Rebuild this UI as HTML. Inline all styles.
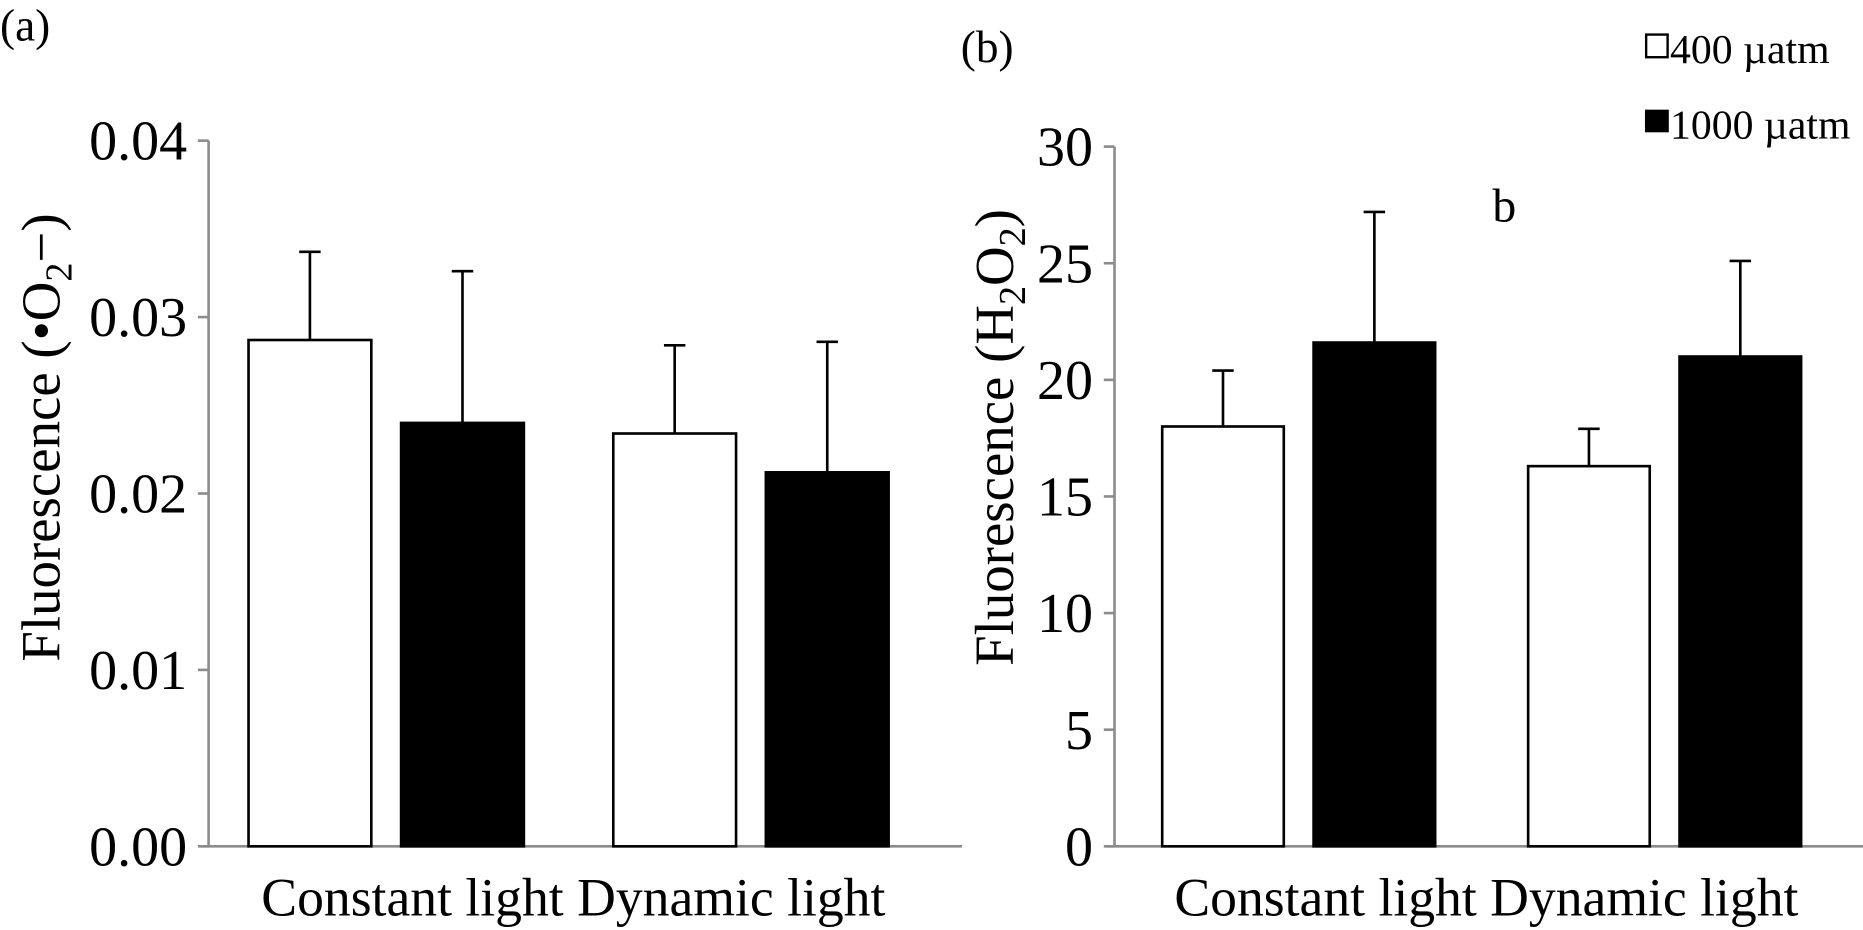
<!DOCTYPE html>
<html><head><meta charset="utf-8"><style>
html,body{margin:0;padding:0;background:#fff;}
svg{display:block;font-family:"Liberation Serif",serif;}
</style></head><body>
<svg id="chart" width="1863" height="930" viewBox="0 0 1863 930" xmlns="http://www.w3.org/2000/svg">
<g transform="scale(1.192)">
<g id="pa"></g>
<g id="pb"></g>
<g>
  <rect x="1381" y="29" width="18" height="19" fill="#fff" stroke="#000" stroke-width="2"/>
  <text x="1401" y="53" font-size="35">400 µatm</text>
  <rect x="1380" y="92" width="20" height="19" fill="#000"/>
  <text x="1401" y="116" font-size="35">1000 µatm</text>
</g>
<text x="0" y="34" font-size="38">(a)</text>
<text x="806" y="52" font-size="38">(b)</text>
<text x="1262" y="186" font-size="40" text-anchor="middle">b</text>
</g>
<script>
const categories = ["Constant light", "Dynamic light"];
const seriesNames = ["400 µatm", "1000 µatm"];
const aValues400 = [0.0287, 0.0234];
const aValues1000 = [0.0240, 0.0212];
const aErr400 = [0.0050, 0.0050];
const aErr1000 = [0.0086, 0.0074];
const aTicks = [0, 0.01, 0.02, 0.03, 0.04];
const aTickLabels = ["0.00", "0.01", "0.02", "0.03", "0.04"];
const bValues400 = [18.0, 16.3];
const bValues1000 = [21.6, 21.0];
const bErr400 = [2.4, 1.6];
const bErr1000 = [5.6, 4.1];
const bTicks = [0, 5, 10, 15, 20, 25, 30];
const bTickLabels = ["0", "5", "10", "15", "20", "25", "30"];

const NS = "http://www.w3.org/2000/svg";
function mk(parent, tag, attrs){const e=document.createElementNS(NS,tag);for(const k in attrs)e.setAttribute(k,attrs[k]);parent.appendChild(e);return e;}

function drawPanel(g, cfg){
  const y = v => cfg.y0 - (v - cfg.min)/(cfg.max-cfg.min)*(cfg.y0-cfg.y1);
  const catW = cfg.catW;
  const ax = mk(g,'line',{x1:cfg.x0,y1:cfg.y1,x2:cfg.x0,y2:cfg.y0,stroke:'#8c8c8c','stroke-width':2.2});
  
  
  const xa = mk(g,'line',{x1:cfg.x0-7,y1:cfg.y0,x2:cfg.x0+catW*categories.length+20,y2:cfg.y0,stroke:'#8c8c8c','stroke-width':2.2});
  
  
  cfg.ticks.forEach((t,i)=>{
    const tk = mk(g,'line',{x1:cfg.x0-9,y1:y(t),x2:cfg.x0,y2:y(t),stroke:'#8c8c8c','stroke-width':2.2});
    
    
    const tl = mk(g,'text',{x:cfg.x0-18,y:y(t)+16,'font-size':47,'text-anchor':'end'});
    tl.textContent = cfg.tickLabels[i];
    
    
  });
  categories.forEach((c,i)=>{
    const cx = cfg.x0 + catW*(i+0.5) + cfg.shift;
    const series = [[cfg.v400[i],cfg.e400[i],'#fff'],[cfg.v1000[i],cfg.e1000[i],'#000']];
    series.forEach((s,j)=>{
      const bx = cx + (j===0 ? -cfg.bw - cfg.gap/2 : cfg.gap/2);
      const ex = bx + cfg.bw/2;
      const el = mk(g,'line',{x1:ex,y1:y(s[0]),x2:ex,y2:y(s[0]+s[1]),stroke:'#000','stroke-width':2.2});
      
      
      const cap = mk(g,'line',{x1:ex-9,y1:y(s[0]+s[1]),x2:ex+9,y2:y(s[0]+s[1]),stroke:'#000','stroke-width':2.2});
      
      
      const r = mk(g,'rect',{x:bx,y:y(s[0]),width:cfg.bw,height:y(cfg.min)-y(s[0]),fill:s[2],stroke:'#000','stroke-width':2.2});
      
      
    });
  });
  const xl = mk(g,'text',{x:cfg.x0+catW+cfg.shift+4,y:768,'font-size':45,'text-anchor':'middle'});
  xl.textContent = categories.join(' ');
  
  
  const yl = mk(g,'text',{transform:`translate(${cfg.ylx},367) rotate(-90)`,'font-size':46,'text-anchor':'middle'});
  
  
  cfg.ylabel.forEach(p=>{
    const ts = mk(yl,'tspan',{});
    if(p[1]){ts.setAttribute('font-size','32');ts.setAttribute('dy','10');}
    else if(p[2]){ts.setAttribute('dy','-10');}
    ts.textContent = p[0];
  });
}

drawPanel(document.getElementById('pa'),{id:'a',x0:175,y0:710,y1:118,min:0,max:0.04,catW:306,shift:-4,bw:103,gap:25,
  ticks:aTicks,tickLabels:aTickLabels,v400:aValues400,v1000:aValues1000,e400:aErr400,e1000:aErr1000,ylx:50,
  ylabel:[['Fluorescence (•O',0,0],['2',1,0],['−)',0,1]]});
drawPanel(document.getElementById('pb'),{id:'b',x0:935,y0:710,y1:123,min:0,max:30,catW:307,shift:1,bw:102,gap:25,
  ticks:bTicks,tickLabels:bTickLabels,v400:bValues400,v1000:bValues1000,e400:bErr400,e1000:bErr1000,ylx:850,
  ylabel:[['Fluorescence (H',0,0],['2',1,0],['O',0,1],['2',1,0],[')',0,1]]});
</script>
</svg>
</body></html>
